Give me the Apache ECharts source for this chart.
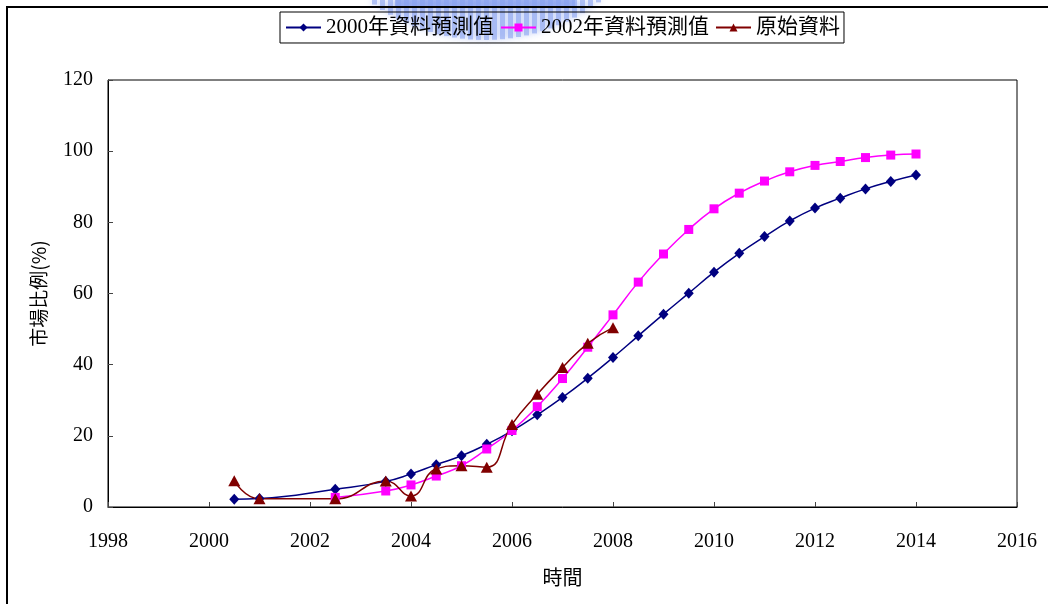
<!DOCTYPE html>
<html>
<head>
<meta charset="utf-8">
<title>市場比例預測</title>
<script src="https://cdn.jsdelivr.net/npm/echarts@6/dist/echarts.min.js"></script>
<style>
  html, body { margin: 0; padding: 0; background: #fff; }
  #chart { width: 1048px; height: 604px; }
</style>
</head>
<body>
<div id="chart"></div>
<script>
// Forecast made with data up to 2000
const forecast2000Years = [2000.5, 2001, 2002.5, 2003.5, 2004, 2004.5, 2005, 2005.5, 2006, 2006.5, 2007, 2007.5, 2008,
  2008.5, 2009, 2009.5, 2010, 2010.5, 2011, 2011.5, 2012, 2012.5, 2013, 2013.5, 2014];
const forecast2000Values = [2.2, 2.4, 5.0, 7.2, 9.3, 11.9, 14.4, 17.6, 21.4, 25.9, 30.8, 36.2, 42.0,
  48.1, 54.2, 60.1, 66.0, 71.3, 76.0, 80.4, 84.0, 86.8, 89.4, 91.5, 93.3];

// Forecast made with data up to 2002
const forecast2002Years = [2002.5, 2003.5, 2004, 2004.5, 2005, 2005.5, 2006, 2006.5, 2007, 2007.5, 2008,
  2008.5, 2009, 2009.5, 2010, 2010.5, 2011, 2011.5, 2012, 2012.5, 2013, 2013.5, 2014];
const forecast2002Values = [2.7, 4.5, 6.2, 8.7, 11.6, 16.3, 21.5, 28.2, 36.1, 44.9, 54.0,
  63.2, 71.1, 78.0, 83.8, 88.2, 91.6, 94.2, 96.0, 97.1, 98.2, 98.9, 99.2];

// Observed market share
const actualYears = [2000.5, 2001, 2002.5, 2003.5, 2004, 2004.5, 2005, 2005.5, 2006, 2006.5, 2007, 2007.5, 2008];
const actualValues = [7.4, 2.3, 2.3, 7.3, 3.1, 10.7, 11.6, 11.2, 23.2, 31.7, 39.2, 46.0, 50.4];

const seriesNames = ['2000年資料預測值', '2002年資料預測值', '原始資料'];
const xTitle = '時間';
const yTitle = '市場比例(%)';

const pairs = (xs, ys) => xs.map((x, i) => [x, ys[i]]);

const latinFont = "'Liberation Serif', 'Noto Sans CJK TC', serif";
const cjkFont = "'Noto Sans CJK TC', 'Liberation Serif', sans-serif";

// Faint blue emblem peeking in at the top edge
function emblem() {
  const cx = 485, cy = -150, r = 190;
  const tint = '#8aa3f0';
  const parts = [];
  parts.push({
    type: 'rect',
    shape: { x: 395, y: 0, width: 180, height: 7 },
    style: { fill: tint, opacity: 0.7, shadowBlur: 6, shadowColor: tint },
    silent: true
  });
  for (let x = 372; x <= 598; x += 8) {
    const dx = x + 2.5 - cx;
    const bottom = cy + Math.sqrt(Math.max(0, r * r - dx * dx));
    if (bottom <= 2) continue;
    parts.push({
      type: 'rect',
      shape: { x: x, y: 0, width: 5, height: bottom },
      style: { fill: tint, opacity: 0.6, shadowBlur: 6, shadowColor: tint },
      silent: true
    });
  }
  return { type: 'group', z: -1, children: parts };
}

const chart = echarts.init(document.getElementById('chart'), null, { renderer: 'canvas' });

chart.setOption({
  backgroundColor: '#ffffff',
  animation: false,
  graphic: [
    emblem(),
    {
      type: 'rect',
      z: 0,
      shape: { x: 7, y: 7, width: 1200, height: 800 },
      style: { fill: 'none', stroke: '#000', lineWidth: 2 },
      silent: true
    }
  ],
  legend: {
    top: 12,
    left: 280,
    padding: [5, 4, 5, 5],
    itemGap: 6,
    itemWidth: 35,
    itemHeight: 10,
    borderColor: '#000',
    borderWidth: 1,
    textStyle: { fontSize: 21, color: '#000', fontFamily: latinFont },
    data: seriesNames
  },
  grid: {
    left: 108,
    right: 31,
    top: 80,
    bottom: 97,
    show: true,
    borderColor: '#000',
    borderWidth: 1,
    backgroundColor: 'transparent'
  },
  xAxis: {
    type: 'value',
    min: 1998,
    max: 2016,
    interval: 2,
    name: xTitle,
    nameLocation: 'middle',
    nameGap: 60,
    nameTextStyle: { fontSize: 20, color: '#000', fontFamily: cjkFont },
    axisLine: { show: true, lineStyle: { color: '#000', width: 1 } },
    axisTick: { show: true, inside: true, length: 5, lineStyle: { color: '#444' } },
    axisLabel: {
      margin: 25, fontSize: 20, color: '#000', fontFamily: latinFont,
      formatter: v => String(v)
    },
    splitLine: { show: false }
  },
  yAxis: {
    type: 'value',
    min: 0,
    max: 120,
    interval: 20,
    name: yTitle,
    nameLocation: 'middle',
    nameGap: 60,
    nameRotate: 90,
    nameTextStyle: { fontSize: 19, color: '#000', fontFamily: cjkFont },
    axisLine: { show: true, lineStyle: { color: '#000', width: 1 } },
    axisTick: { show: true, inside: true, length: 5, lineStyle: { color: '#444' } },
    axisLabel: { margin: 15, fontSize: 20, color: '#000', fontFamily: latinFont },
    splitLine: { show: false }
  },
  series: [
    {
      name: seriesNames[0],
      type: 'line',
      smooth: true,
      data: pairs(forecast2000Years, forecast2000Values),
      symbol: 'diamond',
      symbolSize: [10, 11],
      color: '#000080',
      lineStyle: { width: 1.5, color: '#000080' },
      itemStyle: { color: '#000080' }
    },
    {
      name: seriesNames[1],
      type: 'line',
      smooth: true,
      data: pairs(forecast2002Years, forecast2002Values),
      symbol: 'rect',
      symbolSize: 9,
      color: '#ff00ff',
      lineStyle: { width: 1.5, color: '#ff00ff' },
      itemStyle: { color: '#ff00ff' }
    },
    {
      name: seriesNames[2],
      type: 'line',
      smooth: true,
      data: pairs(actualYears, actualValues),
      symbol: 'triangle',
      symbolSize: [12, 11],
      color: '#800000',
      lineStyle: { width: 1.5, color: '#800000' },
      itemStyle: { color: '#800000' }
    }
  ]
});
</script>
</body>
</html>
